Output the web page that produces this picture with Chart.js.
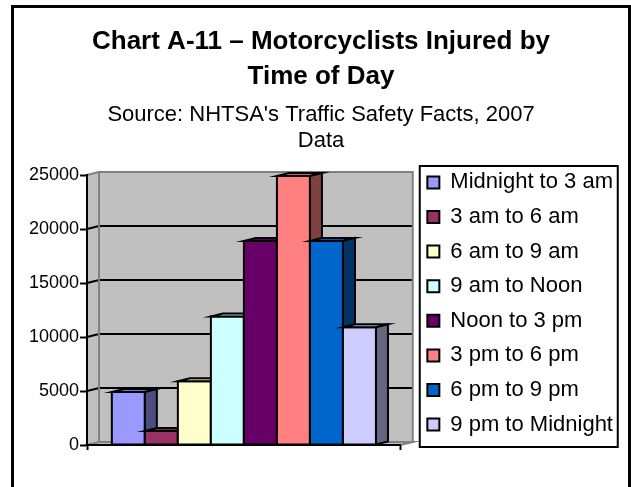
<!DOCTYPE html>
<html>
<head>
<meta charset="utf-8">
<script src="https://cdn.jsdelivr.net/npm/chart.js@4.4.1/dist/chart.umd.min.js"></script>
<style>
  html, body { margin: 0; padding: 0; background: #fff; overflow: hidden; width: 631px; height: 487px; }
  #frame { position: absolute; left: 11px; top: 5px; width: 614px; height: 490px; border: 3px solid #000; background: #fff; }
  #c { display: block; }
</style>
</head>
<body>
<div id="frame"><canvas id="c" width="614" height="479"></canvas></div>
<script>
// ---- data ----
const TITLE_LINES = ['Chart A-11 \u2013 Motorcyclists Injured by', 'Time of Day'];
const SUBTITLE_LINES = ["Source: NHTSA's Traffic Safety Facts, 2007", 'Data'];
const CATEGORIES = ['Midnight to 3 am', '3 am to 6 am', '6 am to 9 am', '9 am to Noon',
                    'Noon to 3 pm', '3 pm to 6 pm', '6 pm to 9 pm', '9 pm to Midnight'];
const INJURED = [4900, 1300, 5900, 11900, 18900, 24900, 18900, 10900];
const Y_TICKS = [0, 5000, 10000, 15000, 20000, 25000];
const COLORS = ['#9999FF', '#993366', '#FFFFCC', '#CCFFFF', '#660066', '#FF8080', '#0066CC', '#CCCCFF'];

// ---- style ----
const FONT = "'Liberation Sans', Arial, sans-serif";
const DEPTH_X = 12, DEPTH_Y = 3;
const WALL = '#C0C0C0', WALL_EDGE = '#808080';

function shade(hex, f) {
  const n = parseInt(hex.slice(1), 16);
  const r = Math.round(((n >> 16) & 255) * f), g = Math.round(((n >> 8) & 255) * f), b = Math.round((n & 255) * f);
  return 'rgb(' + r + ',' + g + ',' + b + ')';
}
function poly(ctx, pts, fill, stroke) {
  ctx.beginPath();
  pts.forEach((p, i) => i ? ctx.lineTo(p[0], p[1]) : ctx.moveTo(p[0], p[1]));
  ctx.closePath();
  if (fill) { ctx.fillStyle = fill; ctx.fill(); }
  if (stroke) { ctx.strokeStyle = stroke; ctx.stroke(); }
}

const threeD = {
  id: 'threeD',
  afterLayout(chart) {
    // centre the title blocks over the whole frame
    chart.boxes.forEach(b => {
      if (b.position === 'top' && b.options && b.options.text !== undefined) {
        b.left = 0; b.right = chart.width; b.width = chart.width;
      }
    });
    // place the legend box to the right of the 3D plot
    const lg = chart.legend, a = chart.chartArea;
    lg.left = a.right + 14; lg.width = 215; lg.right = lg.left + lg.width;
    lg.top = a.top - 27; lg.bottom = a.bottom + 14; lg.height = lg.bottom - lg.top;
  },
  beforeDraw(chart) {
    const ctx = chart.ctx, a = chart.chartArea, y = chart.scales.y;
    ctx.save();
    ctx.lineWidth = 2;
    ctx.lineJoin = 'miter';
    // floor
    poly(ctx, [[a.left, a.bottom], [a.right, a.bottom], [a.right + DEPTH_X, a.bottom - DEPTH_Y], [a.left + DEPTH_X, a.bottom - DEPTH_Y]], WALL, WALL_EDGE);
    // left side wall
    poly(ctx, [[a.left, a.top], [a.left + DEPTH_X, a.top - DEPTH_Y], [a.left + DEPTH_X, a.bottom - DEPTH_Y], [a.left, a.bottom]], WALL, null);
    // back wall
    ctx.fillStyle = WALL;
    ctx.fillRect(a.left + DEPTH_X, a.top - DEPTH_Y, a.right - a.left, a.bottom - a.top);
    // gridlines
    ctx.strokeStyle = '#000';
    y.ticks.forEach(t => {
      if (t.value <= y.min || t.value >= y.max) return;
      const py = y.getPixelForValue(t.value);
      ctx.beginPath();
      ctx.moveTo(a.left, py);
      ctx.lineTo(a.left + DEPTH_X, py - DEPTH_Y);
      ctx.lineTo(a.right + DEPTH_X, py - DEPTH_Y);
      ctx.stroke();
    });
    // wall edges
    ctx.strokeStyle = WALL_EDGE;
    ctx.strokeRect(a.left + DEPTH_X, a.top - DEPTH_Y, a.right - a.left, a.bottom - a.top);
    ctx.beginPath();
    ctx.moveTo(a.left, a.top); ctx.lineTo(a.left + DEPTH_X, a.top - DEPTH_Y);
    ctx.moveTo(a.left, a.bottom); ctx.lineTo(a.left + DEPTH_X, a.bottom - DEPTH_Y);
    ctx.stroke();
    ctx.restore();
  },
  afterDatasetsDraw(chart) {
    const ctx = chart.ctx;
    ctx.save();
    ctx.lineWidth = 2;
    ctx.lineJoin = 'miter';
    chart.data.datasets.forEach((ds, i) => {
      const meta = chart.getDatasetMeta(i);
      if (meta.hidden) return;
      meta.data.forEach(bar => {
        const p = bar.getProps(['x', 'y', 'base', 'width'], true);
        const l = p.x - p.width / 2, r = p.x + p.width / 2, t = p.y, b = p.base;
        const col = ds.backgroundColor;
        poly(ctx, [[l, t], [r, t], [r, b], [l, b]], col, '#000');
        poly(ctx, [[l, t], [r, t], [r + DEPTH_X, t - DEPTH_Y], [l + DEPTH_X, t - DEPTH_Y]], shade(col, 0.8), '#000');
        poly(ctx, [[r, t], [r + DEPTH_X, t - DEPTH_Y], [r + DEPTH_X, b - DEPTH_Y], [r, b]], shade(col, 0.5), '#000');
      });
    });
    ctx.restore();
  },
  afterDraw(chart) {
    const ctx = chart.ctx, lg = chart.legend;
    ctx.save();
    ctx.lineWidth = 2;
    ctx.strokeStyle = '#000';
    ctx.strokeRect(lg.left + 5, lg.top + 18, 198, (lg.bottom - 12) - (lg.top + 18));
    ctx.restore();
  }
};

Chart.defaults.font.family = FONT;
Chart.defaults.color = '#000';

new Chart(document.getElementById('c'), {
  type: 'bar',
  data: {
    labels: [''],
    datasets: CATEGORIES.map((name, i) => ({
      label: name,
      data: [INJURED[i]],
      backgroundColor: COLORS[i],
      borderColor: '#000',
      borderWidth: 2,
      borderSkipped: false
    }))
  },
  options: {
    responsive: false,
    animation: false,
    events: [],
    layout: { padding: { left: 14, right: 103, top: 0, bottom: 37 } },
    datasets: { bar: { categoryPercentage: 0.842, barPercentage: 1 } },
    scales: {
      x: {
        type: 'category',
        offset: true,
        grid: { display: true, drawOnChartArea: false, drawTicks: true, tickLength: 5, tickWidth: 2, tickColor: '#000', offset: true },
        border: { display: true, color: '#000', width: 2 },
        ticks: { display: false }
      },
      y: {
        type: 'linear',
        min: 0,
        max: 25000,
        afterBuildTicks: scale => { scale.ticks = Y_TICKS.map(v => ({ value: v })); },
        grid: { display: true, drawOnChartArea: false, drawTicks: true, tickLength: 7, tickWidth: 2, tickColor: '#000' },
        border: { display: true, color: '#000', width: 2 },
        ticks: { padding: 1, color: '#000', font: { size: 18, family: FONT }, callback: v => String(v) }
      }
    },
    plugins: {
      tooltip: { enabled: false },
      title: {
        display: true,
        text: TITLE_LINES,
        color: '#000',
        font: { size: 26, weight: 'bold', family: FONT, lineHeight: 34.5 / 26 },
        padding: { top: 16.7, bottom: 0 }
      },
      subtitle: {
        display: true,
        text: SUBTITLE_LINES,
        color: '#000',
        font: { size: 22, weight: 'normal', family: FONT, lineHeight: 26 / 22 },
        padding: { top: 8.7, bottom: 20.6 }
      },
      legend: {
        display: true,
        position: 'right',
        align: 'center',
        labels: { color: '#000', font: { size: 22, family: FONT }, boxWidth: 12, boxHeight: 12, padding: 12.6 }
      }
    }
  },
  plugins: [threeD]
});
</script>
</body>
</html>
